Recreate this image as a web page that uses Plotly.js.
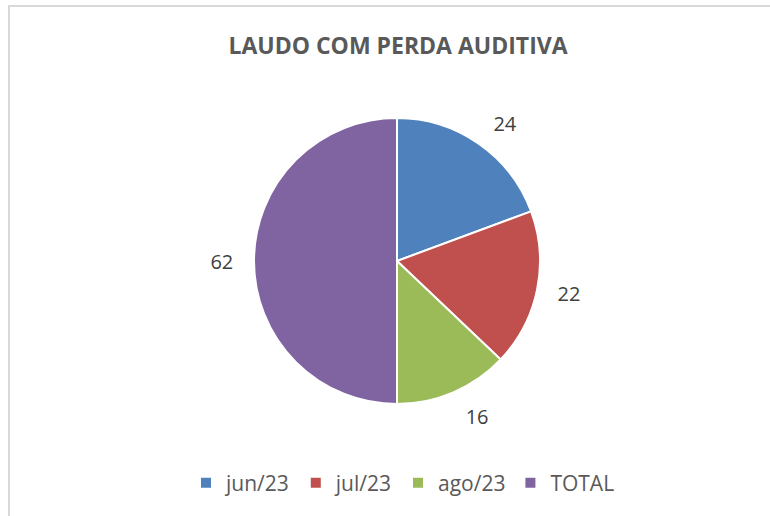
<!DOCTYPE html>
<html><head><meta charset="utf-8">
<script src="https://cdn.plot.ly/plotly-3.0.1.min.js"></script>
<style>
html,body{margin:0;padding:0;overflow:hidden;background:#fff;}
#chart{position:absolute;left:0;top:0;width:770px;height:516px;}
#frame{position:absolute;left:8px;top:5px;width:800px;height:600px;border:2px solid #d9d9d9;pointer-events:none;box-sizing:border-box;}
</style></head>
<body>
<div id="chart"></div>
<div id="frame"></div>
<script>
const categories = ["jun/23", "jul/23", "ago/23", "TOTAL"];
const values = [24, 22, 16, 62];
const colors = ["#4F81BD", "#C0504D", "#9BBB59", "#8064A2"];
const titleText = "LAUDO COM PERDA AUDITIVA";

const W = 770, H = 516;
const FONT = "Open Sans, Liberation Sans, sans-serif";
// pie geometry (pixels)
const cx = 397, cy = 261, R = 143, RL = 157;
const dom = r => ({x: [(cx - r)/W, (cx + r)/W], y: [1 - (cy + r)/H, 1 - (cy - r)/H]});

const data = [{
  type: "pie",
  labels: categories,
  values: values,
  sort: false,
  direction: "clockwise",
  rotation: 0,
  marker: {colors: colors, line: {color: "#ffffff", width: 2}},
  textinfo: "none",
  hoverinfo: "label+value",
  domain: dom(R)
}, {
  // transparent companion pie used only to place the data labels a bit further out
  type: "pie",
  labels: categories,
  values: values,
  sort: false,
  direction: "clockwise",
  rotation: 0,
  showlegend: false,
  marker: {colors: categories.map(() => "rgba(0,0,0,0)"), line: {width: 0}},
  textinfo: "value",
  textposition: "outside",
  outsidetextfont: {family: FONT, size: 20, color: "#404040"},
  automargin: false,
  hoverinfo: "skip",
  domain: dom(RL)
}];
const layout = {
  width: W, height: H,
  margin: {l: 0, r: 0, t: 0, b: 0},
  paper_bgcolor: "#ffffff",
  title: {text: "<b>" + titleText + "</b>", font: {family: FONT, size: 23, color: "#595959"},
          x: 398/W, xanchor: "center", xref: "container", y: 1 - 46/H, yanchor: "middle", yref: "container"},
  showlegend: true,
  legend: {orientation: "h", x: 403/W, xanchor: "center", y: 1 - 483/H, yanchor: "middle",
           font: {family: FONT, size: 21, color: "#595959"},
           itemwidth: 30, traceorder: "normal"}
};
Plotly.newPlot("chart", data, layout, {displayModeBar: false, staticPlot: true});
</script>
</body></html>
